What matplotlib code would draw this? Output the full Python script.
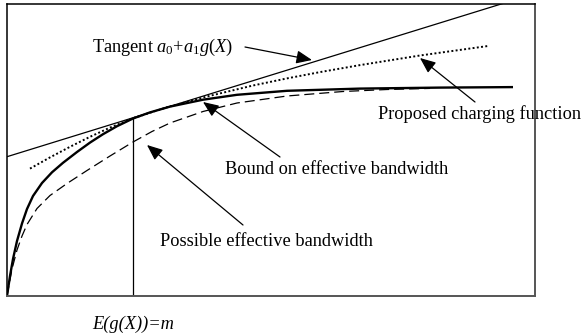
import matplotlib
matplotlib.use("Agg")
import matplotlib.pyplot as plt

plt.rcParams["font.family"] = ["Liberation Serif", "DejaVu Serif"]
plt.rcParams["mathtext.fontset"] = "custom"
plt.rcParams["mathtext.rm"] = "Liberation Serif"
plt.rcParams["mathtext.it"] = "Liberation Serif:italic"

# Bound on effective bandwidth (concave curve, solid bold)
bound_x = [0, 3, 6, 10, 15, 20, 26, 35, 45, 56, 70, 83, 96, 110, 126,
           143, 163, 196, 230, 280, 353, 433, 506]
bound_y = [0, 20, 37, 55, 72.5, 87, 100, 113, 123.7, 133.2, 144, 153.4, 161.8, 169.8, 177.5,
           183.6, 189.4, 196.3, 201.2, 205.2, 207.4, 208.4, 208.9]

# Possible effective bandwidth (dashed)
possible_x = [0, 5, 10, 15, 20, 30, 43, 60, 80, 103, 126, 145, 163, 196, 230, 280, 336, 380, 423]
possible_y = [0, 27, 46, 60, 71.5, 87.5, 100.5, 112.5, 125.5, 140, 154, 164.5, 173, 184.5,
              193, 200, 204.5, 206.5, 207.6]

# Proposed charging function (dotted)
charging_x = [23, 43, 63, 83, 103, 126, 160, 200, 246, 280, 313, 353, 413, 481]
charging_y = [127.4, 138.6, 149.2, 159.2, 168.4, 177.8, 188.7, 199.5, 210.5, 217.6,
              223.9, 230.9, 240.5, 250]

# Tangent a0 + a1 g(X) touching the bound at the mean m
a0 = 139.3
a1 = 0.309
mean_m = 126
tangent_x = [0, 528]

# Annotation labels: (text, text position, arrow tail, arrow tip)
labels = [
    (r"Tangent $a_0$+$a_1g(X)$", (85, 249), (238, 249), (305, 236)),
    ("Proposed charging function", (371, 182), (468, 194), (413, 238)),
    ("Bound on effective bandwidth", (218, 127), (273, 139), (196, 194)),
    ("Possible effective bandwidth", (153, 55), (236, 71), (140, 151)),
]
mean_label = "E(g(X))=m"

fig = plt.figure(figsize=(5.82, 3.36), dpi=100)
ax = fig.add_axes([7 / 582, 40 / 336, 528 / 582, 292 / 336])
ax.set_xlim(0, 528)
ax.set_ylim(0, 292)
ax.set_xticks([])
ax.set_yticks([])
for side in ["left", "top"]:
    ax.spines[side].set_color("black")
    ax.spines[side].set_linewidth(1.1)
for side in ["right", "bottom"]:
    ax.spines[side].set_color("#555555")
    ax.spines[side].set_linewidth(1.4)

ax.plot(bound_x, bound_y, color="black", lw=1.7, solid_capstyle="butt",
        solid_joinstyle="round")
ax.plot(possible_x, possible_y, color="black", lw=0.9, dashes=(8, 4))
ax.plot(charging_x, charging_y, color="black", lw=1.4, linestyle=(0, (1, 1.2)))
ax.plot(tangent_x, [a0 + a1 * x for x in tangent_x], color="black", lw=0.9)

tangent_y_at_m = a0 + a1 * mean_m
ax.plot([mean_m, mean_m], [0, tangent_y_at_m], color="black", lw=0.9)

for text, pos, tail, tip in labels:
    ax.text(pos[0], pos[1], text, ha="left", va="center", fontsize=13.25)
    ax.annotate("", xy=tip, xytext=tail, annotation_clip=False,
                arrowprops=dict(arrowstyle="-|>,head_length=0.95,head_width=0.4",
                                color="black", lw=0.9, shrinkA=0, shrinkB=0))

ax.text(mean_m, -28, mean_label, ha="center", va="center", fontsize=13.25,
        style="italic")

fig.savefig("out.png", dpi=100)
